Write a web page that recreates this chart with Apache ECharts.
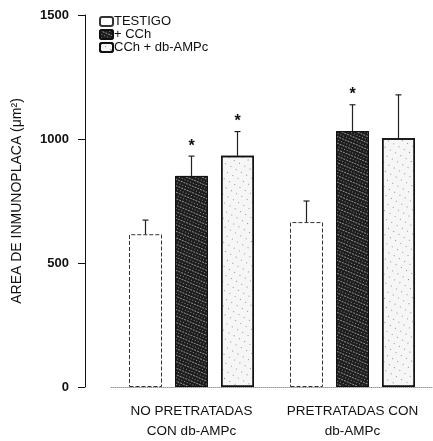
<!DOCTYPE html>
<html>
<head>
<meta charset="utf-8">
<script src="https://cdn.jsdelivr.net/npm/echarts@6/dist/echarts.min.js"></script>
<style>html,body{margin:0;padding:0;background:#fff;}#c{width:433px;height:441px;}</style>
</head>
<body>
<div id="c"></div>
<script>
const categories = ['NO PRETRATADAS\nCON db-AMPc', 'PRETRATADAS CON\ndb-AMPc'];
const seriesNames = ['TESTIGO', '+ CCh', 'CCh + db-AMPc'];
const testigo = [616, 665];
const cch = [851, 1032];
const cchDb = [932, 1003];
const testigoErr = [673, 750];
const cchErr = [931, 1138];
const cchDbErr = [1030, 1178];
const testigoStar = [0, 0];
const cchStar = [1, 1];
const cchDbStar = [1, 0];
const yTicks = [0, 500, 1000, 1500];

const BAR_W = 33, GAP = 13;
const values = [testigo, cch, cchDb];
const errs = [testigoErr, cchErr, cchDbErr];
const stars = [testigoStar, cchStar, cchDbStar];

const styles = [
  {color: '#ffffff', borderColor: '#333', borderWidth: 1, borderType: 'dashed'},
  {color: '#1c1c1c', borderColor: '#111', borderWidth: 1,
   decal: {symbol: 'rect', symbolSize: 1, color: 'rgba(255,255,255,0.5)', dashArrayX: [[1, 2], [2, 1]], dashArrayY: [1, 2], rotation: 0.4}},
  {color: '#f6f6f6', borderColor: '#111', borderWidth: 1.5,
   decal: {symbol: 'rect', symbolSize: 1, color: 'rgba(0,0,0,0.4)', dashArrayX: [1, 5], dashArrayY: [1, 6], rotation: 0.5}}
];

const series = [];
seriesNames.forEach((n, s) => {
  series.push({
    name: n, type: 'bar', barWidth: BAR_W, barGap: (GAP / BAR_W * 100) + '%',
    data: values[s], itemStyle: styles[s], z: 2
  });
});
seriesNames.forEach((n, s) => {
  series.push({
    type: 'custom', z: 3,
    encode: {x: 0, y: [1, 2]},
    data: values[s].map((v, i) => [i, v, errs[s][i], stars[s][i]]),
    renderItem: function (params, api) {
      const c = api.value(0);
      const off = (s - 1) * (BAR_W + GAP);
      const p0 = api.coord([c, api.value(1)]);
      const p1 = api.coord([c, api.value(2)]);
      const x = p0[0] + off;
      const children = [
        {type: 'line', shape: {x1: x, y1: p0[1], x2: x, y2: p1[1]}, style: {stroke: '#222', lineWidth: 1.2}},
        {type: 'line', shape: {x1: x - 3, y1: p1[1], x2: x + 3, y2: p1[1]}, style: {stroke: '#222', lineWidth: 1.2}}
      ];
      if (api.value(3)) {
        children.push({type: 'text', style: {text: '*', x: x, y: p1[1] - 10, align: 'center', verticalAlign: 'middle', fontSize: 16, fontWeight: 'bold', fill: '#111', fontFamily: 'Liberation Sans'}});
      }
      return {type: 'group', children: children};
    }
  });
});

const chart = echarts.init(document.getElementById('c'), null, {renderer: 'canvas'});
chart.setOption({
  animation: false,
  backgroundColor: '#fff',
  textStyle: {fontFamily: 'Liberation Sans'},
  legend: {
    data: seriesNames, orient: 'vertical', left: 94, top: 10,
    itemWidth: 13, itemHeight: 9, itemGap: 0,
    textStyle: {fontSize: 13, color: '#111', lineHeight: 11.5, padding: [0, 0, 0, -4]}
  },
  grid: {left: 111, right: -3, top: 15, bottom: 49, containLabel: false},
  xAxis: {
    type: 'category', data: categories,
    axisLine: {show: true, lineStyle: {color: '#999', type: 'dotted', width: 1}},
    axisTick: {show: false},
    axisLabel: {fontSize: 13.5, color: '#111', lineHeight: 20, margin: 14, interval: 0}
  },
  yAxis: {
    type: 'value', min: 0, max: 1500, interval: 500, offset: 26,
    name: 'AREA DE INMUNOPLACA (μm²)', nameLocation: 'middle', nameGap: 61,
    nameTextStyle: {fontSize: 14, color: '#111'},
    axisLine: {show: true, lineStyle: {color: '#111', width: 1}},
    axisTick: {show: true, length: 7, lineStyle: {color: '#111'}},
    axisLabel: {fontSize: 13, fontWeight: 'bold', color: '#111', margin: 16,
      formatter: v => yTicks.includes(v) ? String(v) : ''},
    splitLine: {show: false}
  },
  series: series
});
</script>
</body>
</html>
